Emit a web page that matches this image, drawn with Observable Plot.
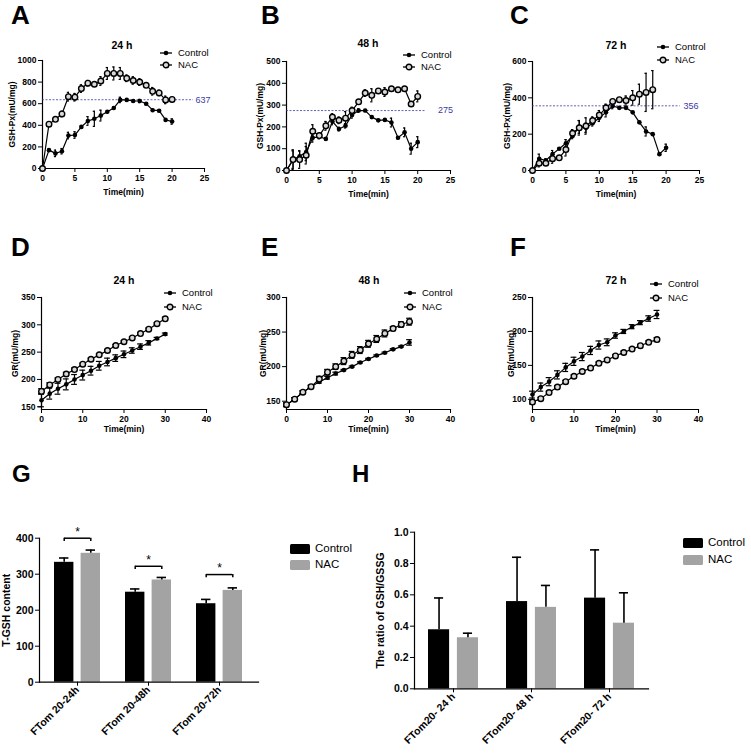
<!DOCTYPE html>
<html><head><meta charset="utf-8">
<script src="https://cdn.jsdelivr.net/npm/d3@7"></script>
<script src="https://cdn.jsdelivr.net/npm/@observablehq/plot@0.6"></script>
<style>
body{margin:0;background:#fff;}
#root{position:relative;width:751px;height:756px;overflow:hidden;font-family:"Liberation Sans",Arial,sans-serif;color:#000;}
.abs{position:absolute;white-space:nowrap;}
.letter{font-weight:bold;font-size:26px;line-height:1.1;}
.letter2{font-weight:bold;font-size:24px;line-height:1.1;}
.title{font-weight:bold;font-size:10.5px;line-height:1;transform:translateX(-50%);}
.leg{font-size:9.5px;line-height:1;display:flex;align-items:center;}
.leg2{font-size:11.5px;line-height:1;display:flex;align-items:center;}
</style></head><body><div id="root"></div>
<script>
// ---------- DATA ----------
const timeMin = [0,1,2,3,4,5,6,7,8,9,10,11,12,13,14,15,16,17,18,19,20];
const timeMinC = [0,1,2,3,4,5,6,7,8,9,10,11,12,13,14,15,16,17,18];
const timeGR = [0,2,4,6,8,10,12,14,16,18,20,22,24,26,28,30];

// A: GSH-Px 24 h
const ctrlA    = [0,170,140,160,305,310,385,440,460,490,525,560,635,635,625,625,600,540,535,450,435];
const ctrlAErr = [0,10,30,25,30,30,10,40,70,50,10,10,25,10,10,15,10,10,10,10,25];
const nacA     = [0,410,455,505,665,660,740,790,780,810,880,880,880,835,815,800,770,715,700,635,640];
const nacAErr  = [0,10,15,25,40,35,35,25,10,40,55,60,55,30,35,30,15,35,25,35,20];
// B: GSH-Px 48 h
const ctrlB    = [0,50,65,85,150,155,145,225,190,205,255,275,275,245,230,232,220,150,175,100,130];
const ctrlBErr = [0,45,25,40,20,10,5,15,8,10,15,8,5,5,5,5,20,5,20,25,25];
const nacB     = [0,50,50,70,180,160,205,245,230,240,275,315,355,345,365,360,375,370,375,305,340];
const nacBErr  = [0,40,40,40,30,10,20,15,15,30,15,10,15,30,10,20,10,8,8,10,25];
// C: GSH-Px 72 h
const ctrlC    = [0,65,55,90,120,150,190,240,235,260,290,320,355,345,345,320,265,215,200,90,125];
const ctrlCErr = [0,25,10,20,5,20,15,35,25,15,20,25,15,5,5,5,5,25,5,5,20];
const nacC     = [0,40,40,65,70,115,205,235,245,275,305,345,380,390,385,400,420,430,445];
const nacCErr  = [0,20,10,25,10,35,20,40,45,20,25,20,10,10,25,40,55,105,105];
// reference lines
const refValues = [637, 275, 356];
const refEnds   = [23.3, 21.2, 22.1];
const refLabelX = [23.6, 23.1, 22.6];

// D: GR 24 h
const ctrlD    = [162,174,183,191,200,208,216,225,232,239,246,253,260,267,275,283];
const ctrlDErr = [12,10,10,10,9,9,8,8,7,6,6,5,5,4,2,2];
const nacD     = [178,190,200,210,218,228,237,245,253,262,269,276,284,292,302,311];
const nacDErr  = [5,4,3,3,3,2,2,2,2,2,2,2,2,2,2,3];
// E: GR 48 h
const ctrlE    = [145,153,163,171,178,184,190,195,200,206,211,216,220,225,229,235];
const ctrlEErr = [2,2,2,2,2,2,2,1,1,1,1,1,1,1,1,4];
const nacE     = [145,153,163,171,182,192,200,208,217,224,233,240,248,255,261,265];
const nacEErr  = [3,2,2,2,4,4,4,5,5,5,5,5,5,3,4,5];
// F: GR 72 h
const ctrlF    = [107,118,126,136,147,156,163,172,180,184,194,200,207,213,219,225];
const ctrlFErr = [5,6,6,6,6,6,6,6,6,5,4,3,3,3,4,6];
const nacF     = [96,101,110,118,126,134,141,146,153,158,164,169,174,179,184,188];
const nacFErr  = [3,2,2,2,2,2,2,2,2,2,2,2,2,2,2,3];

// G: T-GSH content
const groupsG  = ["FTom 20-24h","FTom 20-48h","FTom 20-72h"];
const ctrlG    = [333,250,218];
const ctrlGErr = [12,9,12];
const nacG     = [358,284,255];
const nacGErr  = [9,7,7];
const sigG     = [400,322,299];
// H: GSH/GSSG ratio
const groupsH  = ["FTom20- 24 h","FTom20- 48 h","FTom20- 72 h"];
const ctrlH    = [0.377,0.557,0.579];
const ctrlHErr = [0.203,0.283,0.308];
const nacH     = [0.326,0.52,0.419];
const nacHErr  = [0.029,0.14,0.194];

const seriesNames = ["Control","NAC"];
const nacGray = "#a3a3a3";
const refColor = "#3b3ba6";

// ---------- HELPERS ----------
const root = document.getElementById("root");
function place(el, left, top){ el.style.position="absolute"; el.style.left=left+"px"; el.style.top=top+"px"; root.appendChild(el); }
function addText(cls, text, left, top){ const d=document.createElement("div"); d.className="abs "+cls; d.textContent=text; d.style.left=left+"px"; d.style.top=top+"px"; root.appendChild(d); }
const baseStyle = {fontFamily:'"Liberation Sans", Arial, sans-serif', fontWeight:"bold", fontSize:"8.5px", color:"#000", background:"transparent", overflow:"visible"};
function series(t, v, e){ return v.map((val,i)=>({t:t[i], v:val, e:e[i]})); }

function linePanel(o){
  const c = series(o.t, o.ctrl, o.ctrlErr);
  const n = series(o.nacT || o.t, o.nac, o.nacErr);
  const cap = o.cap;
  const err = d => {
    const f = d.filter(p=>p.e>0);
    return [
      Plot.ruleX(f, {x:"t", y1:p=>p.v-p.e, y2:p=>p.v+p.e, strokeWidth:1.2}),
      Plot.ruleY(f, {y:p=>p.v+p.e, x1:p=>p.t-cap, x2:p=>p.t+cap, strokeWidth:1.2}),
      Plot.ruleY(f, {y:p=>p.v-p.e, x1:p=>p.t-cap, x2:p=>p.t+cap, strokeWidth:1.2})
    ];
  };
  const marks = [
    Plot.frame({anchor:"left", strokeWidth:1.2}),
    Plot.frame({anchor:"bottom", strokeWidth:1.2})
  ];
  if (o.ref != null) {
    marks.push(Plot.ruleY([o.ref], {y:d=>d, x1:()=>0, x2:()=>o.refEnd, stroke:refColor, strokeWidth:0.8, strokeDasharray:"2,1.5"}));
    marks.push(Plot.text([o.ref], {x:()=>o.refLabelX, y:d=>d, text:d=>String(d), textAnchor:"start", fill:refColor, fontWeight:"normal", fontSize:9}));
  }
  marks.push(...err(n), ...err(c));
  marks.push(Plot.line(n, {x:"t", y:"v", strokeWidth:1.2}));
  marks.push(Plot.line(c, {x:"t", y:"v", strokeWidth:1.2}));
  marks.push(Plot.dot(c, {x:"t", y:"v", r:2.3, fill:"#000"}));
  marks.push(Plot.dot(n, {x:"t", y:"v", r:2.8, fill:"#d8d8d8", stroke:"#000", strokeWidth:1.4}));
  const p = Plot.plot({
    width:o.width, height:o.height,
    marginLeft:o.m[0], marginRight:o.m[1], marginTop:o.m[2], marginBottom:o.m[3],
    style: baseStyle,
    x:{domain:o.xDomain, ticks:o.xTicks, tickSize:4, tickPadding:2, label:"Time(min)", labelAnchor:"center", labelOffset:o.xLabelOffset, labelArrow:"none", tickFormat:d=>String(d)},
    y:{domain:o.yDomain, ticks:o.yTicks, tickSize:4, tickPadding:2, label:o.yLabel, labelAnchor:"center", labelOffset:o.yLabelOffset, labelArrow:"none", tickFormat:d=>String(d)},
    marks
  });
  place(p, o.left, o.top);
}

function lineLegend(left, cy1, cy2){
  [[seriesNames[0], false, cy1],[seriesNames[1], true, cy2]].forEach(([name, open, cy])=>{
    const d = document.createElement("div");
    d.className = "abs leg";
    const marker = open
      ? '<circle cx="6" cy="5" r="2.8" fill="#d8d8d8" stroke="#000" stroke-width="1.4"/>'
      : '<circle cx="6" cy="5" r="2.3" fill="#000"/>';
    d.innerHTML = '<svg width="12" height="10"><line x1="0" y1="5" x2="12" y2="5" stroke="#000" stroke-width="1.3"/>'+marker+'</svg><span style="margin-left:6px">'+name+'</span>';
    d.style.left = left+"px"; d.style.top = (cy-5)+"px";
    root.appendChild(d);
  });
}

function barLegend(left, cy1, cy2){
  [[seriesNames[0], "#000", cy1],[seriesNames[1], nacGray, cy2]].forEach(([name, col, cy])=>{
    const d = document.createElement("div");
    d.className = "abs leg2";
    d.innerHTML = '<svg width="20" height="10"><rect x="0" y="0" width="20" height="10" rx="1.5" fill="'+col+'"/></svg><span style="margin-left:5px">'+name+'</span>';
    d.style.left = left+"px"; d.style.top = (cy-5)+"px";
    root.appendChild(d);
  });
}

function barPanel(o){
  const c = o.groups.map((g,i)=>({g, v:o.ctrl[i], e:o.ctrlErr[i]}));
  const n = o.groups.map((g,i)=>({g, v:o.nac[i], e:o.nacErr[i]}));
  const bw = o.bandwidth, barW = o.barW, off = bw/2 - barW/2, capH = o.capHalf;
  const marks = [
    Plot.barY(c, {x:"g", y:"v", fill:"#000", insetRight: bw-barW}),
    Plot.barY(n, {x:"g", y:"v", fill:nacGray, insetLeft: bw-barW}),
    Plot.ruleX(c, {x:"g", y1:"v", y2:d=>d.v+d.e, dx:-off, strokeWidth:1.6}),
    Plot.ruleX(n, {x:"g", y1:"v", y2:d=>d.v+d.e, dx:off, strokeWidth:1.6}),
    Plot.tickY(c, {x:"g", y:d=>d.v+d.e, insetLeft:barW/2-capH, insetRight:bw-barW/2-capH, strokeWidth:1.6}),
    Plot.tickY(n, {x:"g", y:d=>d.v+d.e, insetLeft:bw-barW/2-capH, insetRight:barW/2-capH, strokeWidth:1.6}),
    Plot.frame({anchor:"left", strokeWidth:1.2}),
    Plot.frame({anchor:"bottom", strokeWidth:1.2})
  ];
  if (o.sig) {
    const s = o.groups.map((g,i)=>({g, y:o.sig[i]}));
    marks.push(Plot.tickY(s, {x:"g", y:"y", insetLeft:barW/2, insetRight:barW/2, strokeWidth:1.5}));
    marks.push(Plot.ruleX(s, {x:"g", y1:d=>d.y-o.sigArm, y2:"y", dx:-off, strokeWidth:1.5}));
    marks.push(Plot.ruleX(s, {x:"g", y1:d=>d.y-o.sigArm, y2:"y", dx:off, strokeWidth:1.5}));
    marks.push(Plot.text(s, {x:"g", y:"y", text:()=>"*", dy:-6, fontSize:12, fontWeight:"normal"}));
  }
  const p = Plot.plot({
    width:o.width, height:o.height,
    marginLeft:o.m[0], marginRight:o.m[1], marginTop:o.m[2], marginBottom:o.m[3],
    style: Object.assign({}, baseStyle, {fontSize:"10.5px"}),
    x:{type:"band", domain:o.groups, paddingInner:o.pi, paddingOuter:o.po, label:null, tickRotate:-45, tickSize:4, tickPadding:2},
    y:{domain:o.yDomain, ticks:o.yTicks, tickSize:4, tickPadding:2, label:o.yLabel, labelAnchor:"center", labelOffset:o.yLabelOffset, labelArrow:"none", tickFormat:o.yFormat},
    marks
  });
  place(p, o.left, o.top);
}

// ---------- PANELS A-C ----------
const xTicks25 = [0,5,10,15,20,25];
linePanel({left:0, top:50, width:250, height:150, m:[42,46,10,32],
  t:timeMin, ctrl:ctrlA, ctrlErr:ctrlAErr, nac:nacA, nacErr:nacAErr, cap:0.17,
  xDomain:[0,25], xTicks:xTicks25, yDomain:[0,1000], yTicks:[0,200,400,600,800,1000],
  yLabel:"GSH-Px(mU/mg)", yLabelOffset:34, xLabelOffset:26,
  ref:refValues[0], refEnd:refEnds[0], refLabelX:refLabelX[0]});
linePanel({left:250, top:50, width:250, height:150, m:[36,50,11,30],
  t:timeMin, ctrl:ctrlB, ctrlErr:ctrlBErr, nac:nacB, nacErr:nacBErr, cap:0.17,
  xDomain:[0,25], xTicks:xTicks25, yDomain:[0,500], yTicks:[0,100,200,300,400,500],
  yLabel:"GSH-Px(mU/mg)", yLabelOffset:30, xLabelOffset:26,
  ref:refValues[1], refEnd:refEnds[1], refLabelX:refLabelX[1]});
linePanel({left:500, top:50, width:251, height:150, m:[32,52,11,30],
  t:timeMin, ctrl:ctrlC, ctrlErr:ctrlCErr, nacT:timeMinC, nac:nacC, nacErr:nacCErr, cap:0.17,
  xDomain:[0,25], xTicks:xTicks25, yDomain:[0,600], yTicks:[0,200,400,600],
  yLabel:"GSH-Px(mU/mg)", yLabelOffset:29, xLabelOffset:26,
  ref:refValues[2], refEnd:refEnds[2], refLabelX:refLabelX[2]});

// ---------- PANELS D-F ----------
const xTicks40 = [0,10,20,30,40];
linePanel({left:0, top:287, width:250, height:150, m:[41,44,10,28],
  t:timeGR, ctrl:ctrlD, ctrlErr:ctrlDErr, nac:nacD, nacErr:nacDErr, cap:0.7,
  xDomain:[0,40], xTicks:xTicks40, yDomain:[145,350], yTicks:[150,200,250,300,350],
  yLabel:"GR(mU/mg)", yLabelOffset:30, xLabelOffset:22});
linePanel({left:250, top:287, width:250, height:150, m:[36,50,10,28],
  t:timeGR, ctrl:ctrlE, ctrlErr:ctrlEErr, nac:nacE, nacErr:nacEErr, cap:0.7,
  xDomain:[0,40], xTicks:xTicks40, yDomain:[138,300], yTicks:[150,200,250,300],
  yLabel:"GR(mU/mg)", yLabelOffset:27, xLabelOffset:22});
linePanel({left:500, top:287, width:251, height:150, m:[32,53,10,28],
  t:timeGR, ctrl:ctrlF, ctrlErr:ctrlFErr, nac:nacF, nacErr:nacFErr, cap:0.7,
  xDomain:[0,40], xTicks:xTicks40, yDomain:[85,250], yTicks:[100,150,200,250],
  yLabel:"GR(mU/mg)", yLabelOffset:25, xLabelOffset:22});

// ---------- PANELS G-H ----------
barPanel({left:0, top:520, width:290, height:236, m:[39,32,17.7,74.3],
  groups:groupsG, ctrl:ctrlG, ctrlErr:ctrlGErr, nac:nacG, nacErr:nacGErr, sig:sigG, sigArm:9,
  pi:0.347, po:0.208, bandwidth:46.6, barW:20, capHalf:5,
  yDomain:[0,400], yTicks:[0,100,200,300,400], yFormat:d=>String(d),
  yLabel:"T-GSH content", yLabelOffset:37});
barPanel({left:375, top:515, width:300, height:241, m:[39,27,16.7,67.7],
  groups:groupsH, ctrl:ctrlH, ctrlErr:ctrlHErr, nac:nacH, nacErr:nacHErr,
  pi:0.36, po:0.18, bandwidth:49.9, barW:21, capHalf:4.5,
  yDomain:[0,1], yTicks:[0,0.2,0.4,0.6,0.8,1.0], yFormat:d3.format(".1f"),
  yLabel:"The ratio of GSH/GSSG", yLabelOffset:38});

// ---------- LETTERS, TITLES, LEGENDS ----------
addText("letter","A",11,1); addText("letter","B",261,1); addText("letter","C",510,1);
addText("letter","D",11,233); addText("letter","E",261,233); addText("letter","F",510,233);
addText("letter2","G",12,461); addText("letter2","H",352,461);
addText("title","24 h",122,40); addText("title","48 h",368,38); addText("title","72 h",616,40);
addText("title","24 h",124,275); addText("title","48 h",369,275); addText("title","72 h",616,275);
lineLegend(160,53,65); lineLegend(403,55,67); lineLegend(657,47,60);
lineLegend(164,293,307); lineLegend(404,293,307); lineLegend(650,284,298);
barLegend(290,548,564); barLegend(683,542,559);
</script></body></html>
